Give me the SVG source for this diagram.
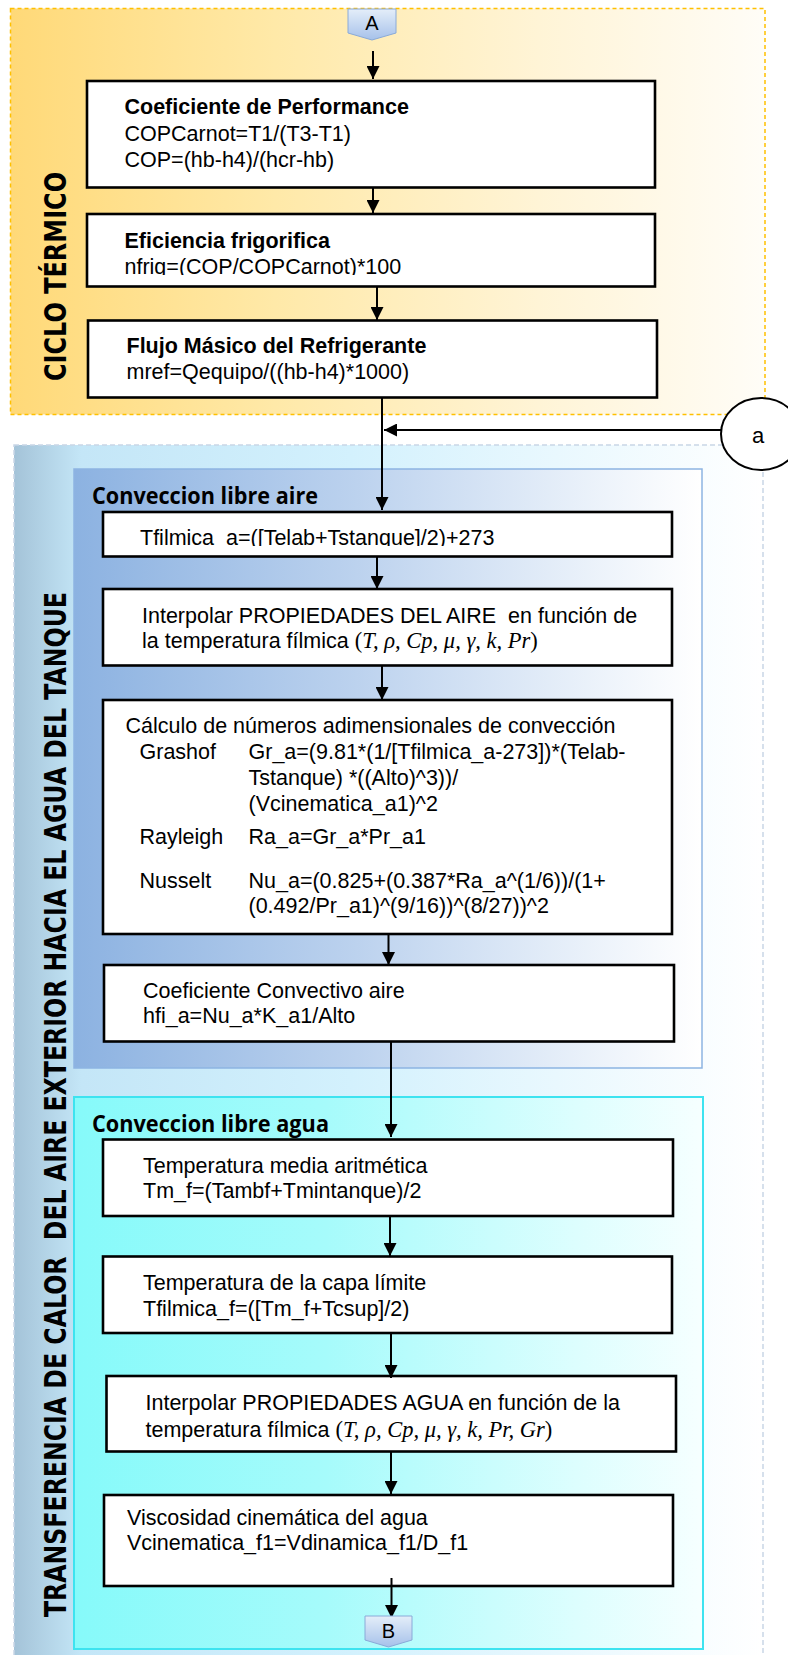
<svg xmlns="http://www.w3.org/2000/svg" width="788" height="1655" viewBox="0 0 788 1655">
<defs>
<linearGradient id="gOr" x1="0" y1="0" x2="1" y2="0">
<stop offset="0" stop-color="#FFD978"/><stop offset="0.35" stop-color="#FFE9A8"/><stop offset="0.7" stop-color="#FFF4D6"/><stop offset="1" stop-color="#FFFDF7"/>
</linearGradient>
<linearGradient id="gOut" x1="0" y1="0" x2="1" y2="0">
<stop offset="0" stop-color="#A4C3D8"/><stop offset="0.09" stop-color="#C4E6F7"/><stop offset="0.45" stop-color="#D3F1FD"/><stop offset="1" stop-color="#FFFFFF"/>
</linearGradient>
<linearGradient id="gAir" x1="0" y1="0" x2="1" y2="0">
<stop offset="0" stop-color="#8CB2E1"/><stop offset="0.45" stop-color="#BCD2EE"/><stop offset="0.85" stop-color="#EEF4FB"/><stop offset="1" stop-color="#FFFFFF"/>
</linearGradient>
<linearGradient id="gWat" x1="0" y1="0" x2="1" y2="0">
<stop offset="0" stop-color="#86FAFA"/><stop offset="0.4" stop-color="#A6FBFB"/><stop offset="0.8" stop-color="#DDFEFE"/><stop offset="1" stop-color="#F6FFFF"/>
</linearGradient>
<linearGradient id="gCon" x1="0" y1="0" x2="0" y2="1">
<stop offset="0" stop-color="#E4EEF9"/><stop offset="1" stop-color="#A6C1EA"/>
</linearGradient>
<marker id="ah" viewBox="0 0 13 13" refX="13" refY="6.5" markerWidth="13" markerHeight="13" markerUnits="userSpaceOnUse" orient="auto">
<path d="M0,0 L13,6.5 L0,13 Z" fill="#000"/>
</marker>
<clipPath id="clip2"><rect x="80" y="210" width="600" height="65"/></clipPath>
<clipPath id="clip4"><rect x="100" y="510" width="580" height="36"/></clipPath>
</defs>
<style>
.box{fill:#fff;stroke:#000;stroke-width:2.6}
.t{font-family:"Liberation Sans",Arial,sans-serif;font-size:21.5px;fill:#000}
.b{font-weight:bold}
.m{font-family:"Liberation Serif","Times New Roman",serif;font-style:italic;font-size:22.5px}
.u{font-style:normal}
.sec{font-family:"Open Sans","Liberation Sans",sans-serif;font-weight:700;font-size:23px;fill:#000}
.vt{font-family:"DejaVu Sans",Verdana,sans-serif;font-weight:bold;font-size:30px;fill:#000}
.con{stroke:#000;stroke-width:2;fill:none;marker-end:url(#ah)}
.lbl{font-family:"Liberation Sans",Arial,sans-serif;font-size:20px;fill:#000;text-anchor:middle}
</style>

<g id="bg-ciclo">
<rect x="10.5" y="8.5" width="754.5" height="406" fill="url(#gOr)" stroke="#FFC000" stroke-width="1.5" stroke-dasharray="4 3"/>
</g>
<g id="bg-transferencia">
<rect x="14" y="445" width="749" height="1220" fill="url(#gOut)" stroke="#C9D6E6" stroke-width="1.5" stroke-dasharray="5 3"/>
</g>
<g id="bg-aire">
<rect x="74" y="469" width="628" height="599" fill="url(#gAir)" stroke="#8DB4E2" stroke-width="1.5"/>
<text class="sec" x="92" y="504" textLength="226" lengthAdjust="spacingAndGlyphs">Conveccion libre aire</text>
</g>
<g id="bg-agua">
<rect x="74" y="1097" width="629" height="552" fill="url(#gWat)" stroke="#3DE3F0" stroke-width="2"/>
<text class="sec" x="92" y="1132" textLength="237" lengthAdjust="spacingAndGlyphs">Conveccion libre agua</text>
</g>

<g id="title-ciclo">
<text class="vt" transform="translate(66,276.5) rotate(-90)" text-anchor="middle" textLength="209" lengthAdjust="spacingAndGlyphs">CICLO TÉRMICO</text>
</g>
<g id="title-transferencia">
<text class="vt" transform="translate(66,1104.5) rotate(-90)" text-anchor="middle" textLength="1025" lengthAdjust="spacingAndGlyphs" xml:space="preserve">TRANSFERENCIA DE CALOR  DEL AIRE EXTERIOR HACIA EL AGUA DEL TANQUE</text>
</g>

<g id="conn-A">
<path d="M348,9 H396 V33 L372,40 L348,33 Z" fill="url(#gCon)" stroke="#8AAAD8" stroke-width="1"/>
<text class="lbl" x="372" y="30">A</text>
</g>

<g id="n1">
<rect class="box" x="87" y="81" width="568" height="106.5"/>
<text class="t b" x="124.5" y="114">Coeficiente de Performance</text>
<text class="t" x="124.5" y="140.5">COPCarnot=T1/(T3-T1)</text>
<text class="t" x="124.5" y="166.5">COP=(hb-h4)/(hcr-hb)</text>
</g>
<g id="n2">
<rect class="box" x="87" y="214" width="568" height="72.5"/>
<text class="t b" x="124.5" y="248">Eficiencia frigorifica</text>
<text class="t" x="124.5" y="273.5" clip-path="url(#clip2)">nfrig=(COP/COPCarnot)*100</text>
</g>
<g id="n3">
<rect class="box" x="88" y="320.5" width="569" height="77"/>
<text class="t b" x="126.5" y="353">Flujo Másico del Refrigerante</text>
<text class="t" x="126.5" y="379">mref=Qequipo/((hb-h4)*1000)</text>
</g>

<g id="n4">
<rect class="box" x="103" y="512" width="569" height="44.5"/>
<text class="t" x="140" y="544.5" clip-path="url(#clip4)">Tfilmica_a=([Telab+Tstanque]/2)+273</text>
</g>
<g id="n5">
<rect class="box" x="103" y="589" width="569" height="76.5"/>
<text class="t" x="142" y="622.5" xml:space="preserve">Interpolar PROPIEDADES DEL AIRE  en función de</text>
<text class="t" x="142" y="648">la temperatura fílmica <tspan class="m"><tspan class="u">(</tspan>T, ρ, Cp, μ, γ, k, Pr<tspan class="u">)</tspan></tspan></text>
</g>
<g id="n6">
<rect class="box" x="103" y="700" width="569" height="234"/>
<text class="t" x="125.5" y="733">Cálculo de números adimensionales de convección</text>
<text class="t" x="139.5" y="759">Grashof</text>
<text class="t" x="248.5" y="759">Gr_a=(9.81*(1/[Tfilmica_a-273])*(Telab-</text>
<text class="t" x="248.5" y="785">Tstanque) *((Alto)^3))/</text>
<text class="t" x="248.5" y="810.5">(Vcinematica_a1)^2</text>
<text class="t" x="139.5" y="843.5">Rayleigh</text>
<text class="t" x="248.5" y="843.5">Ra_a=Gr_a*Pr_a1</text>
<text class="t" x="139.5" y="888">Nusselt</text>
<text class="t" x="248.5" y="888">Nu_a=(0.825+(0.387*Ra_a^(1/6))/(1+</text>
<text class="t" x="248.5" y="913">(0.492/Pr_a1)^(9/16))^(8/27))^2</text>
</g>
<g id="n7">
<rect class="box" x="104" y="965" width="570" height="76.5"/>
<text class="t" x="143" y="998">Coeficiente Convectivo aire</text>
<text class="t" x="143" y="1023">hfi_a=Nu_a*K_a1/Alto</text>
</g>

<g id="n8">
<rect class="box" x="103" y="1139.5" width="570" height="76.5"/>
<text class="t" x="143" y="1172.5">Temperatura media aritmética</text>
<text class="t" x="143" y="1197.5">Tm_f=(Tambf+Tmintanque)/2</text>
</g>
<g id="n9">
<rect class="box" x="103" y="1256.5" width="569" height="76.5"/>
<text class="t" x="143" y="1290">Temperatura de la capa límite</text>
<text class="t" x="143" y="1316">Tfilmica_f=([Tm_f+Tcsup]/2)</text>
</g>
<g id="n10">
<rect class="box" x="106.5" y="1376" width="569.5" height="75.5"/>
<text class="t" x="145.5" y="1410">Interpolar PROPIEDADES AGUA en función de la</text>
<text class="t" x="145.5" y="1437">temperatura fílmica <tspan class="m"><tspan class="u">(</tspan>T, ρ, Cp, μ, γ, k, Pr, Gr<tspan class="u">)</tspan></tspan></text>
</g>
<g id="n11">
<rect class="box" x="104" y="1495" width="569" height="91"/>
<text class="t" x="127" y="1525">Viscosidad cinemática del agua</text>
<text class="t" x="127" y="1550">Vcinematica_f1=Vdinamica_f1/D_f1</text>
</g>

<g id="connectors">
<line class="con" x1="373" y1="51" x2="373" y2="79"/>
<line class="con" x1="373" y1="188" x2="373" y2="213"/>
<line class="con" x1="377" y1="287" x2="377" y2="320"/>
<line class="con" x1="382" y1="398" x2="382" y2="510"/>
<line class="con" x1="721" y1="430" x2="384" y2="430"/>
<line class="con" x1="377" y1="557" x2="377" y2="589"/>
<line class="con" x1="382" y1="666" x2="382" y2="700"/>
<line class="con" x1="388.5" y1="934" x2="388.5" y2="965"/>
<line class="con" x1="391" y1="1042" x2="391" y2="1137"/>
<line class="con" x1="390" y1="1216" x2="390" y2="1256"/>
<line class="con" x1="391" y1="1333" x2="391" y2="1378"/>
<line class="con" x1="391" y1="1452" x2="391" y2="1494"/>
<line class="con" x1="391.5" y1="1578" x2="391.5" y2="1618"/>
</g>

<g id="conn-a">
<ellipse cx="761" cy="434" rx="40" ry="36" fill="#fff" stroke="#000" stroke-width="2"/>
<text class="lbl" x="758" y="443" style="font-size:22px">a</text>
</g>

<g id="conn-B">
<path d="M365,1616 H412 V1640 L388.5,1647 L365,1640 Z" fill="url(#gCon)" stroke="#8AAAD8" stroke-width="1"/>
<text class="lbl" x="388.5" y="1638">B</text>
</g>
</svg>
